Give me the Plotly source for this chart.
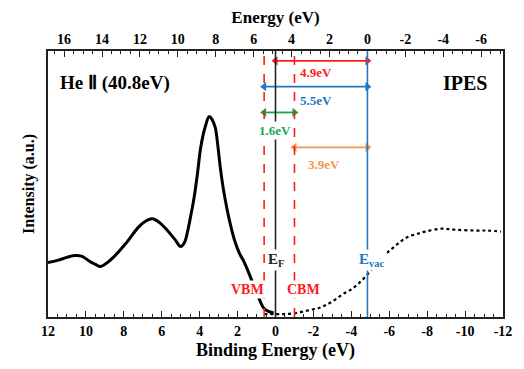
import plotly.graph_objects as go

# UPS (He II) spectrum: binding energy (eV) and intensity (a.u.)
ups_be = [12.0, 11.5, 11.0, 10.6, 10.2, 9.8, 9.5, 9.25, 9.0, 8.5, 7.9, 7.25, 6.9, 6.5,
          6.1, 5.7, 5.3, 5.0, 4.8, 4.64, 4.45, 4.28, 4.1, 3.96, 3.8, 3.7, 3.5, 3.35,
          3.18, 3.05, 2.92, 2.75, 2.56, 2.35, 2.14, 1.9, 1.67, 1.4, 1.15, 0.9, 0.63,
          0.4, 0.1]
ups_int = [20.5, 21.3, 22.4, 23.1, 22.8, 20.9, 19.8, 19.0, 19.8, 22.8, 27.6, 33.6,
           35.8, 36.9, 35.4, 32.5, 29.1, 26.5, 28.0, 32.1, 38.8, 45.5, 54.9, 63.1,
           69.0, 71.6, 75.4, 74.3, 71.3, 64.9, 56.7, 48.1, 40.7, 33.9, 28.4, 23.9,
           20.9, 16.4, 11.9, 7.5, 3.4, 2.2, 1.5]

# IPES spectrum
ipes_be = [0.6, 0.0, -0.5, -1.1, -1.8, -2.3, -2.66, -3.1, -3.55, -4.0, -4.4, -4.85,
           -5.2, -5.6, -6.15, -6.6, -7.0, -7.5, -7.9, -8.76, -9.5, -10.5, -11.2, -11.9]
ipes_int = [1.1, 1.1, 1.1, 1.5, 2.6, 3.4, 4.5, 6.3, 8.6, 10.4, 12.7, 16.0, 19.0,
            22.4, 25.7, 28.4, 30.2, 31.3, 32.1, 33.2, 32.8, 32.5, 32.5, 32.1]

# Energy levels (binding energy, eV)
e_f = 0.0
vbm = 0.6
cbm = -1.0
e_vac = -4.85

# Energy-gap arrows: (from, to, height, label, label position)
gap_labels = ["4.9eV", "5.5eV", "1.6eV", "3.9eV"]

bottom_ticks = [12, 10, 8, 6, 4, 2, 0, -2, -4, -6, -8, -10, -12]
top_ticks = [16, 14, 12, 10, 8, 6, 4, 2, 0, -2, -4, -6]

RED = "#FF1A1A"
BLUE = "#2277C2"
GREEN = "#13A84A"
ORANGE = "#F5954B"
FONT = "Liberation Serif"

fig = go.Figure()
fig.add_trace(go.Scatter(x=ups_be, y=ups_int, mode="lines",
                         line=dict(color="black", width=3, shape="spline"),
                         showlegend=False))
fig.add_trace(go.Scatter(x=ipes_be, y=ipes_int, mode="lines",
                         line=dict(color="black", width=2.2, shape="spline", dash="dot"),
                         showlegend=False))
# dummy trace for top axis
fig.add_trace(go.Scatter(x=[12 - e_vac, -12 - e_vac], y=[None, None], xaxis="x2",
                         mode="lines", showlegend=False, hoverinfo="skip"))

# vertical level lines
fig.add_shape(type="line", x0=e_f, x1=e_f, y0=0, y1=1, xref="x", yref="paper",
              line=dict(color="#222222", width=1.6))
fig.add_shape(type="line", x0=e_vac, x1=e_vac, y0=0, y1=1, xref="x", yref="paper",
              line=dict(color=BLUE, width=1.6))
for v in (vbm, cbm):
    fig.add_shape(type="line", x0=v, x1=v, y0=0, y1=1, xref="x", yref="paper",
                  line=dict(color=RED, width=1.6, dash="dash"))


def arrow(left, right, y, color):
    # double-headed horizontal arrow; x axis is reversed so 'left' has larger BE
    fig.add_trace(go.Scatter(
        x=[left, right], y=[y, y], mode="lines+markers",
        line=dict(color=color, width=1.8),
        marker=dict(symbol=["triangle-left", "triangle-right"], size=8, color=color),
        showlegend=False, hoverinfo="skip"))


arrow(e_f, e_vac, 96.3, RED)
arrow(vbm, e_vac, 86.6, BLUE)
arrow(vbm, cbm, 76.9, GREEN)
arrow(cbm, e_vac, 63.8, ORANGE)


def label(x, y, text, color, size=13, bg="rgba(0,0,0,0)"):
    fig.add_annotation(x=x, y=y, xref="x", yref="y", text=text, showarrow=False,
                       font=dict(family=FONT, size=size, color=color, weight="bold"),
                       bgcolor=bg, borderpad=1)


label(-2.14, 91.8, gap_labels[0], RED)
label(-2.14, 81.3, gap_labels[1], BLUE)
label(0.05, 70.1, gap_labels[2], GREEN, bg="white")
label(-2.56, 57.5, gap_labels[3], ORANGE)
label(-0.05, 21.3, "E<sub>F</sub>", "#222222", size=15, bg="white")
label(-5.1, 21.3, "E<sub>vac</sub>", BLUE, size=15, bg="white")
label(1.5, 10.4, "VBM", RED, size=14, bg="white")
label(-1.46, 10.4, "CBM", RED, size=14, bg="white")

fig.add_annotation(x=0.022, y=0.929, xref="paper", yref="paper", xanchor="left",
                   text="He Ⅱ (40.8eV)", showarrow=False,
                   font=dict(family=FONT, size=19, color="black", weight="bold"))
fig.add_annotation(x=0.97, y=0.929, xref="paper", yref="paper", xanchor="right",
                   text="IPES", showarrow=False,
                   font=dict(family=FONT, size=20, color="black", weight="bold"))

axis_common = dict(showline=True, linecolor="#222222", linewidth=1.5, ticks="inside",
                   ticklen=6, tickwidth=1.2, tickcolor="#222222", showgrid=False,
                   zeroline=False,
                   tickfont=dict(family=FONT, size=14, color="black", weight="bold"),
                   minor=dict(ticks="inside", ticklen=3, dtick=0.5, tickwidth=1,
                              tickcolor="#222222", showgrid=False))

fig.update_layout(
    width=524, height=369,
    margin=dict(l=48, r=15, t=51, b=50),
    paper_bgcolor="white", plot_bgcolor="white",
    xaxis=dict(range=[12, -12], tickvals=bottom_ticks,
               ticktext=[str(t) for t in bottom_ticks],
               title=dict(text="Binding Energy (eV)", standoff=6,
                          font=dict(family=FONT, size=18, color="black", weight="bold")),
               **axis_common),
    xaxis2=dict(range=[12 - e_vac, -12 - e_vac], overlaying="x", side="top",
                tickvals=top_ticks, ticktext=[str(t) for t in top_ticks],
                title=dict(text="Energy (eV)", standoff=4,
                           font=dict(family=FONT, size=17, color="black", weight="bold")),
                **axis_common),
    yaxis=dict(range=[0, 100], showticklabels=False, ticks="", showline=True,
               mirror=True, linecolor="#222222", linewidth=1.5, showgrid=False,
               zeroline=False,
               title=dict(text="Intensity (a.u.)", standoff=8,
                          font=dict(family=FONT, size=16, color="black", weight="bold"))),
)

fig.write_html("out.html")
